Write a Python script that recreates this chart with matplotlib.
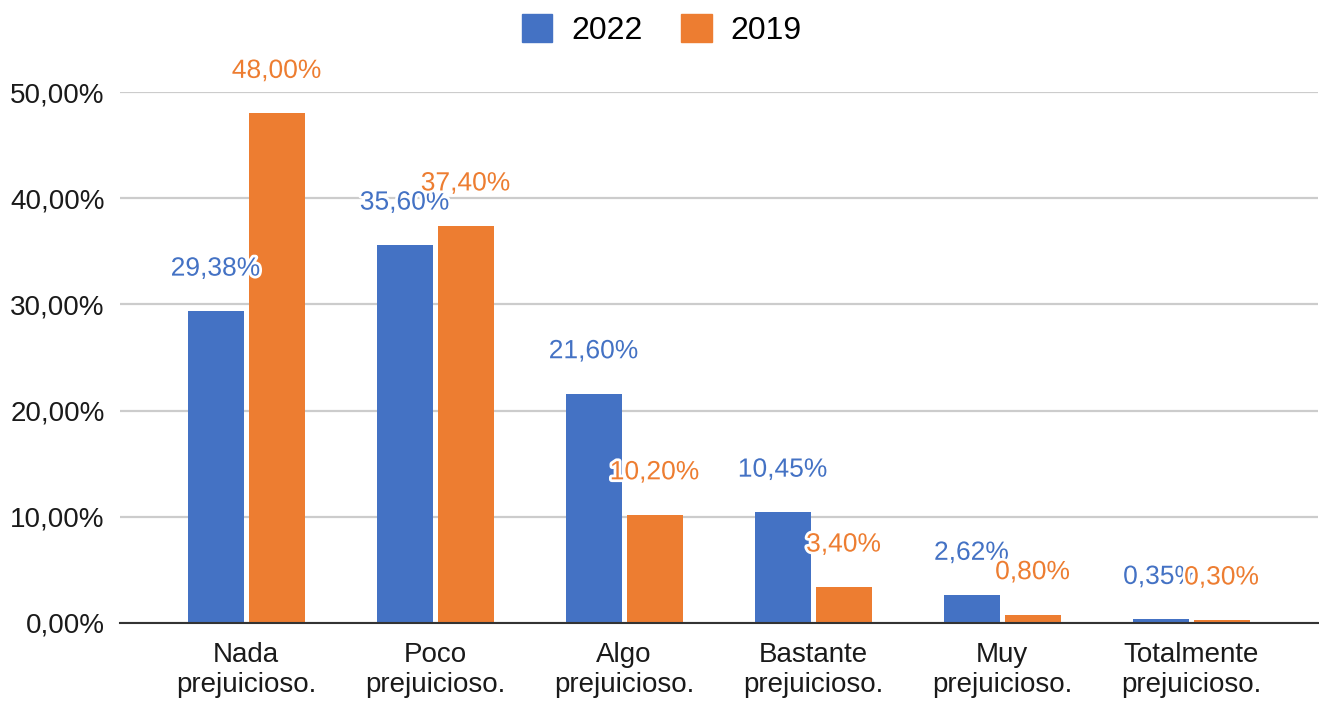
import matplotlib
matplotlib.use("Agg")
import matplotlib.pyplot as plt
import matplotlib.patheffects as pe
from matplotlib.patches import Patch
import numpy as np

categories = ["Nada\nprejuicioso.", "Poco\nprejuicioso.", "Algo\nprejuicioso.",
              "Bastante\nprejuicioso.", "Muy\nprejuicioso.", "Totalmente\nprejuicioso."]
series_names = ["2022", "2019"]
values_2022 = [29.38, 35.60, 21.60, 10.45, 2.62, 0.35]
values_2019 = [48.00, 37.40, 10.20, 3.40, 0.80, 0.30]
yticks = [0, 10, 20, 30, 40, 50]
colors = ["#4472C4", "#ED7D31"]

plt.rcParams['font.family'] = ['Liberation Sans', 'DejaVu Sans']

fig = plt.figure(figsize=(13.19, 7.02), dpi=100)
ax = fig.add_axes([120/1319, 1-623/702, 1198/1319, (623-92)/702])

x = np.arange(len(categories))
w = 56/189
off = 30.5/189
for vals, col, dx in [(values_2022, colors[0], -off), (values_2019, colors[1], off)]:
    ax.bar(x + dx, vals, width=w, color=col, zorder=3)
    for xi, v in zip(x + dx, vals):
        t = ax.annotate(f"{v:.2f}%".replace(".", ","), (xi, v), xytext=(0, 30.5),
                        textcoords="offset points", ha="center", va="center",
                        fontsize=19, color=col, zorder=5, annotation_clip=False)
        t.set_path_effects([pe.withStroke(linewidth=4, foreground="white")])

ax.set_xlim(-126/189, 5 + 127/189)
ax.set_ylim(0, 50)
ax.set_yticks(yticks)
ax.set_yticklabels([f"{v},00%" for v in yticks], fontsize=20, color="#1a1a1a")
ax.set_xticks(x)
ax.set_xticklabels(categories, fontsize=20, color="#1a1a1a", linespacing=1.2)
ax.tick_params(axis="both", length=0)
ax.tick_params(axis="y", pad=11)
ax.tick_params(axis="x", pad=14)
ax.grid(axis="y", color="#cccccc", linewidth=1.6, zorder=0)
for s in ["top", "right", "left"]:
    ax.spines[s].set_visible(False)
ax.spines["bottom"].set_color("#333333")
ax.spines["bottom"].set_linewidth(1.5)
ax.spines["bottom"].set_zorder(4)

handles = [Patch(color=c) for c in colors]
fig.legend(handles, series_names, loc="center", bbox_to_anchor=(662/1319, 1-30/702),
           ncol=2, frameon=False, fontsize=23, handlelength=0.95, handleheight=0.95,
           columnspacing=1.2, handletextpad=0.6, borderpad=0.2)

fig.savefig("out.png", dpi=100)
